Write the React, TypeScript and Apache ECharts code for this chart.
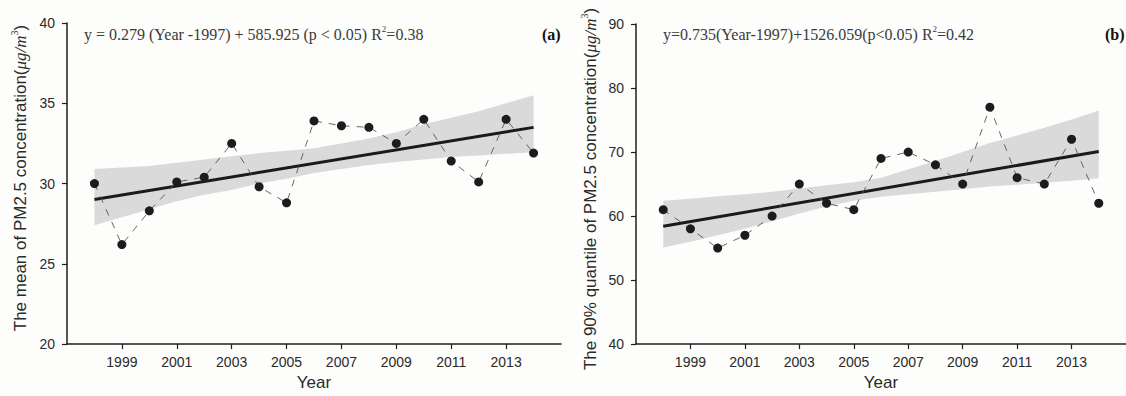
import React, { useEffect, useRef } from "react";
import * as echarts from "echarts";

// ---- data ----
const YEARS = [1998, 1999, 2000, 2001, 2002, 2003, 2004, 2005, 2006, 2007, 2008, 2009, 2010, 2011, 2012, 2013, 2014];
const MEAN_PM25 = [30.0, 26.2, 28.3, 30.1, 30.4, 32.5, 29.8, 28.8, 33.9, 33.6, 33.5, 32.5, 34.0, 31.4, 30.1, 34.0, 31.9];
const P90_PM25 = [61, 58, 55, 57, 60, 65, 62, 61, 69, 70, 68, 65, 77, 66, 65, 72, 62];

const TREND_YEARS = [1998, 2014];
const TREND_A = [29.0, 33.5];
const TREND_B = [58.4, 70.1];

const BAND_A_UPPER = [30.9, 31.0, 31.1, 31.3, 31.5, 31.7, 31.9, 32.05, 32.2, 32.5, 32.8, 33.2, 33.7, 34.1, 34.5, 35.0, 35.5];
const BAND_A_LOWER = [27.4, 27.9, 28.4, 28.9, 29.3, 29.6, 30.0, 30.3, 30.65, 30.9, 31.15, 31.35, 31.5, 31.65, 31.75, 31.85, 31.95];
const BAND_B_UPPER = [62.4, 62.7, 63.1, 63.4, 63.8, 64.3, 64.8, 65.3, 66.0, 67.3, 68.6, 70.0, 71.4, 72.6, 73.8, 75.1, 76.5];
const BAND_B_LOWER = [55.1, 56.0, 57.0, 58.0, 59.2, 60.4, 61.5, 62.4, 63.0, 63.4, 63.8, 64.2, 64.6, 64.9, 65.2, 65.5, 65.9];

const X_START = 1997; // axis starts here
const X_END = 2015;
const X_STEP = 2;

const Y_A = { min: 20, max: 40, step: 5 };
const Y_B = { min: 40, max: 90, step: 10 };

const EQ_A = "y = 0.279 (Year -1997) + 585.925 (p < 0.05) R";
const EQ_A_R2 = "=0.38";
const EQ_B = "y=0.735(Year-1997)+1526.059(p<0.05) R";
const EQ_B_R2 = "=0.42";
const TITLE_A = "The mean of PM2.5 concentration(";
const TITLE_B = "The 90% quantile of PM2.5 concentration(";

const SANS = "'Liberation Sans', Arial, sans-serif";
const SERIF = "'Liberation Serif', 'Times New Roman', serif";
const AXIS_COLOR = "#1e1e1e";
const TEXT_COLOR = "#2a2a2a";

const px = (year: number) => year - X_START;

function xAxisCfg(gridIndex: number) {
  return {
    type: "value",
    gridIndex,
    min: 0,
    max: X_END - X_START,
    interval: X_STEP,
    axisLine: { show: true, onZero: false, lineStyle: { color: AXIS_COLOR, width: 1.5 } },
    axisTick: { show: true, inside: false, length: 5, lineStyle: { color: AXIS_COLOR, width: 1.2 } },
    splitLine: { show: false },
    axisLabel: {
      formatter: (v: number) => String(v + X_START),
      showMinLabel: false,
      showMaxLabel: false,
      fontFamily: SANS,
      fontSize: 14,
      color: TEXT_COLOR,
      margin: 11,
    },
    name: "Year",
    nameLocation: "middle",
    nameGap: 26,
    nameTextStyle: { fontFamily: SANS, fontSize: 17, color: TEXT_COLOR },
  };
}

function yAxisCfg(gridIndex: number, r: { min: number; max: number; step: number }) {
  return {
    type: "value",
    gridIndex,
    min: r.min,
    max: r.max,
    interval: r.step,
    axisLine: { show: true, onZero: false, lineStyle: { color: AXIS_COLOR, width: 1.5 } },
    axisTick: { show: true, inside: false, length: 5, lineStyle: { color: AXIS_COLOR, width: 1.2 } },
    splitLine: { show: false },
    axisLabel: { fontFamily: SANS, fontSize: 14, color: TEXT_COLOR, margin: 12 },
  };
}

function panelSeries(idx: number, values: number[], trend: number[], upper: number[], lower: number[]) {
  return [
    {
      type: "custom",
      xAxisIndex: idx,
      yAxisIndex: idx,
      silent: true,
      z: 1,
      data: [[px(YEARS[0]), lower[0]]],
      renderItem: (_params: any, api: any) => {
        const pts: number[][] = [];
        YEARS.forEach((y, i) => pts.push(api.coord([px(y), upper[i]])));
        for (let i = YEARS.length - 1; i >= 0; i--) pts.push(api.coord([px(YEARS[i]), lower[i]]));
        return {
          type: "polygon",
          shape: { points: pts },
          style: { fill: "#dadada", stroke: "none" },
        };
      },
    },
    {
      type: "line",
      xAxisIndex: idx,
      yAxisIndex: idx,
      data: TREND_YEARS.map((y, i) => [px(y), trend[i]]),
      symbol: "none",
      lineStyle: { color: "#1a1a1a", width: 3 },
      z: 3,
    },
    {
      type: "line",
      xAxisIndex: idx,
      yAxisIndex: idx,
      data: YEARS.map((y, i) => [px(y), values[i]]),
      symbol: "circle",
      symbolSize: 9,
      itemStyle: { color: "#1c1c1c" },
      lineStyle: { color: "#555", width: 0.9, type: [7, 7] },
      z: 4,
    },
  ];
}

function titleText(main: string, x: number, y: number) {
  return {
    type: "text",
    x,
    y,
    rotation: Math.PI / 2,
    style: {
      text: `{n|${main}}{i|μg/m}{s|3}{n|)}`,
      align: "center",
      verticalAlign: "middle",
      rich: {
        n: { fontFamily: SANS, fontSize: 17, fill: TEXT_COLOR, lineHeight: 22 },
        i: { fontFamily: SERIF, fontStyle: "italic", fontSize: 17, fill: TEXT_COLOR, lineHeight: 22 },
        s: { fontFamily: SERIF, fontSize: 10, fill: TEXT_COLOR, lineHeight: 12, verticalAlign: "top" },
      },
    },
  };
}

function eqText(eq: string, r2: string, x: number, y: number) {
  return {
    type: "text",
    x,
    y,
    style: {
      text: `{n|${eq}}{s|2}{n|${r2}}`,
      verticalAlign: "middle",
      rich: {
        n: { fontFamily: SERIF, fontSize: 16, fill: "#3a3a3a", lineHeight: 20 },
        s: { fontFamily: SERIF, fontSize: 9, fill: "#3a3a3a", lineHeight: 10, verticalAlign: "top" },
      },
    },
  };
}

export default function App() {
  const ref = useRef<HTMLDivElement>(null);
  useEffect(() => {
    if (!ref.current) return;
    const chart = echarts.init(ref.current, undefined, { renderer: "svg" });
    chart.setOption({
      animation: false,
      backgroundColor: "#fdfdfc",
      grid: [
        { left: 67, top: 23, width: 494, height: 329 },
        { left: 636, top: 24, width: 490, height: 329 },
      ],
      xAxis: [xAxisCfg(0), xAxisCfg(1)],
      yAxis: [yAxisCfg(0, Y_A), yAxisCfg(1, Y_B)],
      series: [
        ...panelSeries(0, MEAN_PM25, TREND_A, BAND_A_UPPER, BAND_A_LOWER),
        ...panelSeries(1, P90_PM25, TREND_B, BAND_B_UPPER, BAND_B_LOWER),
      ],
      graphic: [
        titleText(TITLE_A, 20, 178),
        titleText(TITLE_B, 590, 189),
        eqText(EQ_A, EQ_A_R2, 84, 34),
        eqText(EQ_B, EQ_B_R2, 663, 34),
        {
          type: "text",
          x: 542,
          y: 34,
          style: { text: "(a)", fontFamily: SERIF, fontWeight: "bold", fontSize: 16, fill: "#111", verticalAlign: "middle" },
        },
        {
          type: "text",
          x: 1105,
          y: 34,
          style: { text: "(b)", fontFamily: SERIF, fontWeight: "bold", fontSize: 16, fill: "#111", verticalAlign: "middle" },
        },
      ],
    });
    return () => chart.dispose();
  }, []);
  return (
    <div
      ref={ref}
      style={{ position: "fixed", left: 0, top: 0, width: 1126, height: 396 }}
    />
  );
}
